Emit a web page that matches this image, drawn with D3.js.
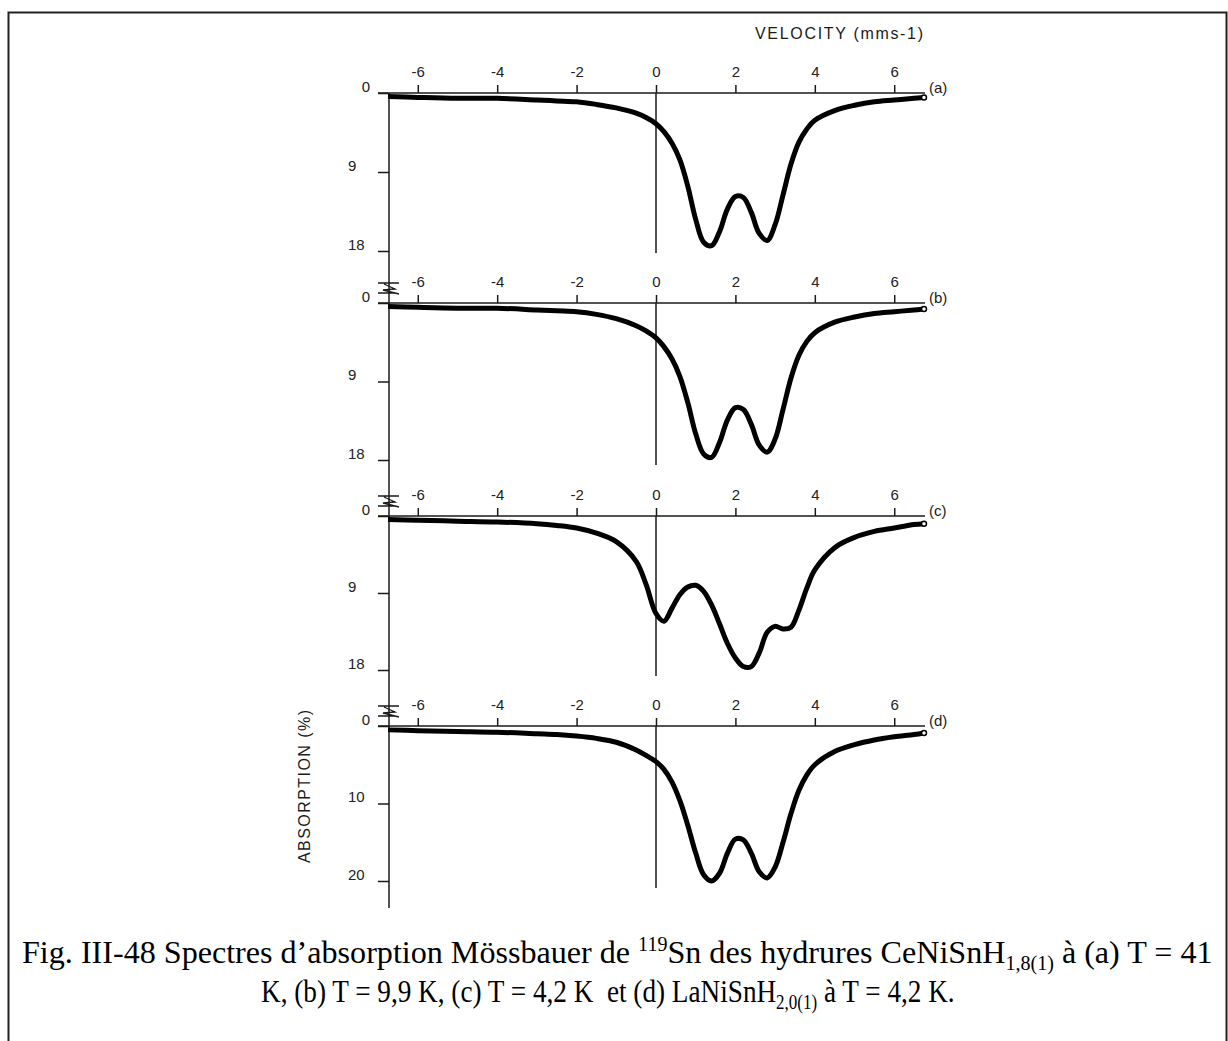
<!DOCTYPE html>
<html>
<head>
<meta charset="utf-8">
<script src="https://cdn.jsdelivr.net/npm/d3@7"></script>
<style>
  body { margin: 0; background: #fff; }
  svg { display: block; }
  .tick text { font-family: "Liberation Sans", Arial, sans-serif; font-size: 15px; fill: #222; }
</style>
</head>
<body>
<svg id="chart" width="1228" height="1041"></svg>
<script>
// velocity grid (mm/s) shared by the four spectra
const velocity = [-6.75, -6, -5, -4, -3, -2.5, -2, -1.5, -1, -0.5, -0.25,
  0, 0.2, 0.4, 0.6, 0.8, 1.0, 1.2, 1.4, 1.6, 1.8, 2.0, 2.2, 2.4, 2.6, 2.8, 3.0,
  3.2, 3.4, 3.6, 3.8, 4.0, 4.5, 5, 5.5, 6, 6.5, 6.75];

// absorption (%)
const absA = [0.4, 0.5, 0.6, 0.6, 0.8, 0.9, 1.0, 1.3, 1.7, 2.3, 2.8,
  3.5, 4.4, 5.7, 7.6, 10.6, 14.4, 17.0, 17.4, 15.8, 13.2, 11.8, 11.9, 13.6, 16.0, 16.8, 15.0,
  11.6, 8.1, 5.6, 4.1, 3.1, 2.0, 1.4, 1.0, 0.8, 0.6, 0.5];
const absB = [0.4, 0.5, 0.6, 0.6, 0.8, 0.9, 1.0, 1.3, 1.8, 2.6, 3.2,
  4.0, 5.0, 6.4, 8.4, 11.4, 15.0, 17.3, 17.7, 16.0, 13.4, 12.0, 12.2, 13.9, 16.3, 17.1, 15.6,
  12.2, 8.6, 6.0, 4.4, 3.4, 2.2, 1.6, 1.2, 1.0, 0.8, 0.7];
const absC = [0.4, 0.5, 0.6, 0.7, 0.9, 1.1, 1.4, 2.0, 3.0, 5.3, 8.0,
  11.4, 12.3, 10.8, 9.2, 8.3, 8.1, 8.8, 10.4, 12.6, 14.9, 16.6, 17.6, 17.6, 16.0, 13.6, 12.9,
  13.2, 13.0, 11.0, 8.4, 6.3, 3.7, 2.5, 1.8, 1.4, 1.0, 0.9];
const absD = [0.5, 0.6, 0.7, 0.8, 1.0, 1.1, 1.3, 1.6, 2.1, 3.1, 3.8,
  4.6, 5.6, 7.2, 9.6, 12.8, 16.4, 19.2, 20.0, 19.0, 16.4, 14.6, 14.7, 16.4, 18.8, 19.6, 18.2,
  15.0, 11.3, 8.3, 6.3, 5.0, 3.3, 2.4, 1.8, 1.4, 1.1, 0.9];

const xTicks = [-6, -4, -2, 0, 2, 4, 6];
const yTicks18 = [0, 9, 18];
const yTicks20 = [0, 10, 20];
const panelLabels = ['(a)', '(b)', '(c)', '(d)'];

const panels = [
  { label: panelLabels[0], values: absA, ticks: yTicks18, max: 18, top: 93, bottom: 251, zeroEnd: 253, brk: false },
  { label: panelLabels[1], values: absB, ticks: yTicks18, max: 18, top: 303, bottom: 460, zeroEnd: 465, brk: true },
  { label: panelLabels[2], values: absC, ticks: yTicks18, max: 18, top: 516, bottom: 670, zeroEnd: 676, brk: true },
  { label: panelLabels[3], values: absD, ticks: yTicks20, max: 20, top: 726, bottom: 881, zeroEnd: 888, brk: true }
];

const svg = d3.select('#chart');
const ink = '#1a1a1a';
const axisX = 389;

// page frame
svg.append('path')
  .attr('d', 'M8.5,1041 V12.5 H1226.5 V1041')
  .attr('fill', 'none')
  .attr('stroke', '#222')
  .attr('stroke-width', 2);

const x = d3.scaleLinear().domain([-6.75, 6.75]).range([388, 924]);

// shared y axis line
svg.append('line')
  .attr('x1', axisX).attr('x2', axisX)
  .attr('y1', 93).attr('y2', 908)
  .attr('stroke', ink).attr('stroke-width', 1.5);

panels.forEach((p) => {
  const y = d3.scaleLinear().domain([0, p.max]).range([p.top, p.bottom]);
  const g = svg.append('g');

  // velocity axis on top of each spectrum
  const xa = g.append('g')
    .attr('transform', `translate(0,${p.top})`)
    .call(d3.axisTop(x).tickValues(xTicks).tickSize(8).tickPadding(8).tickFormat((d) => String(d)));
  xa.select('.domain').remove();
  xa.selectAll('.tick line').attr('stroke', ink).attr('stroke-width', 1.5);
  g.append('line')
    .attr('x1', 378).attr('x2', 925)
    .attr('y1', p.top).attr('y2', p.top)
    .attr('stroke', ink).attr('stroke-width', 1.5);

  // absorption ticks
  const ya = g.append('g')
    .attr('transform', `translate(${axisX},0)`)
    .call(d3.axisLeft(y).tickValues(p.ticks).tickSize(11).tickFormat((d) => String(d)));
  ya.select('.domain').remove();
  ya.selectAll('.tick line').attr('stroke', ink).attr('stroke-width', 1.5);
  ya.selectAll('.tick text')
    .attr('y', -7)
    .attr('dy', '0.35em')
    .attr('x', (d) => d === 0 ? -19 : -41)
    .attr('text-anchor', (d) => d === 0 ? 'end' : 'start');

  // zero velocity line
  g.append('line')
    .attr('x1', x(0)).attr('x2', x(0))
    .attr('y1', p.top).attr('y2', p.zeroEnd)
    .attr('stroke', ink).attr('stroke-width', 1.5);

  // axis break mark
  if (p.brk) {
    const t = p.top;
    g.append('path')
      .attr('d', `M378,${t - 20} H399 M384,${t - 19} L395,${t - 14} L383,${t - 13} L399,${t - 9} M378,${t - 10} H395`)
      .attr('fill', 'none')
      .attr('stroke', ink)
      .attr('stroke-width', 1.3);
  }

  // panel label
  g.append('text')
    .attr('x', 929).attr('y', p.top)
    .attr('font-family', 'Liberation Sans, Arial, sans-serif')
    .attr('font-size', 15)
    .attr('fill', ink)
    .text(p.label);

  // spectrum
  const line = d3.line()
    .x((d, i) => x(velocity[i]))
    .y((d) => y(d))
    .curve(d3.curveCatmullRom.alpha(0.5));
  g.append('path')
    .datum(p.values)
    .attr('d', line)
    .attr('fill', 'none')
    .attr('stroke', '#000')
    .attr('stroke-width', 5)
    .attr('stroke-linejoin', 'round');
  g.append('circle')
    .attr('cx', x(velocity[velocity.length - 1]))
    .attr('cy', y(p.values[p.values.length - 1]))
    .attr('r', 2.5)
    .attr('fill', '#fff')
    .attr('stroke', '#000')
    .attr('stroke-width', 1.5);
});

// axis titles
svg.append('text')
  .attr('x', 755).attr('y', 39)
  .attr('font-family', 'Liberation Sans, Arial, sans-serif')
  .attr('font-size', 16)
  .attr('fill', ink)
  .attr('textLength', 168)
  .attr('lengthAdjust', 'spacing')
  .text('VELOCITY (mms-1)');

svg.append('text')
  .attr('transform', 'translate(310,863) rotate(-90)')
  .attr('font-family', 'Liberation Sans, Arial, sans-serif')
  .attr('font-size', 16)
  .attr('fill', ink)
  .attr('textLength', 153)
  .attr('lengthAdjust', 'spacing')
  .text('ABSORPTION (%)');

// caption, squeezed horizontally to the width of the original
function caption(x0, y0, width, parts) {
  const t = svg.append('text')
    .attr('font-family', 'Liberation Serif, Times New Roman, serif')
    .attr('font-size', 32)
    .attr('fill', '#000')
    .attr('xml:space', 'preserve');
  parts.forEach((s) => {
    const ts = t.append('tspan').text(s.text);
    if (s.dy) ts.attr('dy', s.dy);
    if (s.small) ts.attr('font-size', 20);
  });
  const len = t.node().getComputedTextLength();
  t.attr('transform', `translate(${x0},${y0}) scale(${width / len},1)`);
}

caption(22, 963, 1191, [
  { text: 'Fig. III-48 Spectres d’absorption Mössbauer de ' },
  { text: '119', dy: -12, small: true },
  { text: 'Sn des hydrures CeNiSnH', dy: 12 },
  { text: '1,8(1)', dy: 7, small: true },
  { text: ' à (a) T = 41', dy: -7 }
]);

caption(261, 1002, 694, [
  { text: 'K, (b) T = 9,9 K, (c) T = 4,2 K\u00a0 et (d) LaNiSnH' },
  { text: '2,0(1)', dy: 7, small: true },
  { text: ' à T = 4,2 K.', dy: -7 }
]);
</script>
</body>
</html>
